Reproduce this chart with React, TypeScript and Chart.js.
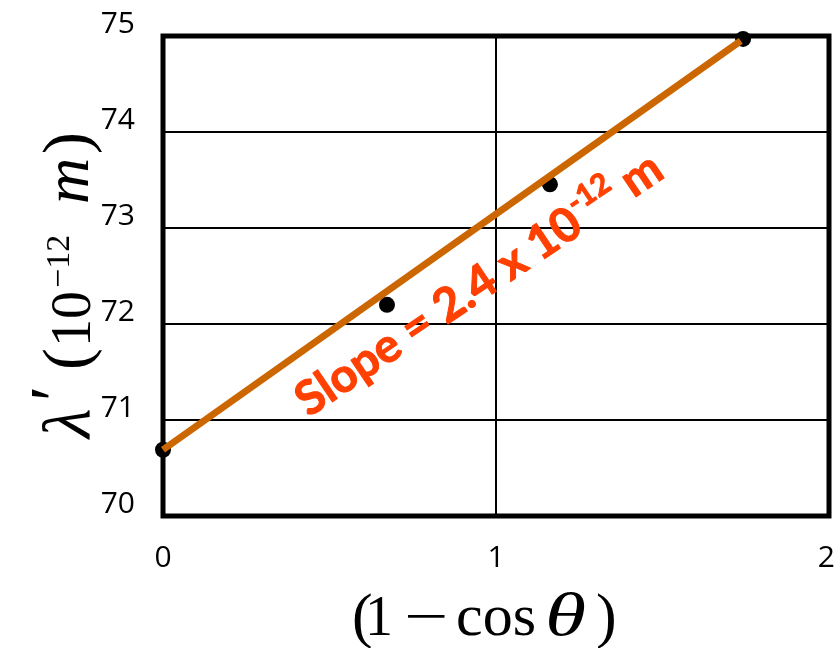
import React, { useEffect, useRef } from "react";
import { Chart, registerables } from "chart.js";

Chart.register(...registerables);

// ---- data ----
const measuredX = [0, 0.6726, 1.162, 1.742];
const measuredY = [70.69, 72.2, 73.455, 74.97];
const fitX = [0, 1.735];
const fitY = [70.69, 74.95];
const xTickValues = [0, 1, 2];
const yMin = 70;
const yMax = 75;
const xMin = 0;
const xMax = 2;
const slopeMain = "Slope = 2.4 x 10";
const slopeSup = "-12";
const slopeUnit = " m";
const slopeAnchor = [0.975, 72.28];

type Run = { t: string; font: string; at: number; dy?: number; sx?: number };

function drawRuns(ctx: CanvasRenderingContext2D, runs: Run[], ox: number, oy: number, angle: number, color: string) {
  ctx.save();
  ctx.translate(ox, oy);
  ctx.rotate(angle);
  ctx.fillStyle = color;
  ctx.textAlign = "left";
  ctx.textBaseline = "alphabetic";
  runs.forEach((r) => {
    ctx.save();
    ctx.font = r.font;
    ctx.translate(r.at, r.dy || 0);
    ctx.scale(r.sx || 1, 1);
    ctx.fillText(r.t, 0, 0);
    ctx.restore();
  });
  ctx.restore();
}

function drawFlow(
  ctx: CanvasRenderingContext2D,
  runs: { t: string; font: string; dy?: number; gap?: number }[],
  cx: number,
  cy: number,
  angle: number,
  color: string,
  emb: number
) {
  ctx.save();
  ctx.translate(cx, cy);
  ctx.rotate(angle);
  ctx.fillStyle = color;
  ctx.strokeStyle = color;
  ctx.lineWidth = emb;
  ctx.lineJoin = "round";
  ctx.textAlign = "left";
  ctx.textBaseline = "alphabetic";
  let total = 0;
  const widths = runs.map((r) => {
    ctx.font = r.font;
    const w = ctx.measureText(r.t).width;
    total += (r.gap || 0) + w;
    return w;
  });
  let x = -total / 2;
  runs.forEach((r, i) => {
    x += r.gap || 0;
    ctx.font = r.font;
    ctx.fillText(r.t, x, r.dy || 0);
    if (emb > 0) ctx.strokeText(r.t, x, r.dy || 0);
    x += widths[i];
  });
  ctx.restore();
}

const SERIF = '"Liberation Serif", "Times New Roman", serif';
const TICKFONT = '"Open Sans", sans-serif';

const decor = {
  id: "decor",
  beforeDatasetsDraw(chart: any) {
    const { ctx, chartArea: a } = chart;
    ctx.save();
    ctx.strokeStyle = "#000";
    ctx.lineWidth = 5;
    ctx.lineJoin = "miter";
    ctx.strokeRect(a.left, a.top, a.right - a.left, a.bottom - a.top);
    ctx.restore();
  },
  afterDraw(chart: any) {
    const { ctx, chartArea: a } = chart;
    const xs = chart.scales.x;
    const ys = chart.scales.y;
    // x tick labels
    ctx.save();
    ctx.font = `30px ${TICKFONT}`;
    ctx.fillStyle = "#000";
    ctx.textBaseline = "alphabetic";
    ctx.textAlign = "left";
    xTickValues.forEach((v) => {
      const label = String(v);
      const px = xs.getPixelForValue(v);
      const w = ctx.measureText(label).width;
      let left = px - w / 2;
      if (left + w > chart.width - 2) left = chart.width - 2 - w;
      ctx.fillText(label, left, a.bottom + 51);
    });
    ctx.restore();

    // x axis title: (1 − cos θ)
    drawRuns(
      ctx,
      [
        { t: "(", font: `62px ${SERIF}`, at: 352, dy: 1 },
        { t: "1", font: `56px ${SERIF}`, at: 365 },
        { t: "\u2212", font: `56px ${SERIF}`, at: 404, sx: 1.4 },
        { t: "cos", font: `60px ${SERIF}`, at: 456 },
        { t: "\u03B8", font: `italic 62px ${SERIF}`, at: 545, sx: 1.35 },
        { t: ")", font: `62px ${SERIF}`, at: 596, dy: 1 },
      ],
      0,
      635,
      0,
      "#000"
    );

    // y axis title: λ′(10^−12 m)
    drawRuns(
      ctx,
      [
        { t: "\u03BB", font: `italic 68px ${SERIF}`, at: 0 },
        { t: "\u2032", font: `70px ${SERIF}`, at: 37, dy: -12 },
        { t: "(", font: `66px ${SERIF}`, at: 68, dy: -2 },
        { t: "10", font: `56px ${SERIF}`, at: 91 },
        { t: "\u221212", font: `34px ${SERIF}`, at: 150, dy: -21 },
        { t: "m", font: `italic 64px ${SERIF}`, at: 234, dy: -2 },
        { t: ")", font: `66px ${SERIF}`, at: 284, dy: -2 },
      ],
      90,
      438,
      -Math.PI / 2,
      "#000"
    );

    // slope annotation
    const sx = xs.getPixelForValue(slopeAnchor[0]);
    const sy = ys.getPixelForValue(slopeAnchor[1]);
    drawFlow(
      ctx,
      [
        { t: slopeMain, font: `bold 47px Lato, sans-serif` },
        { t: slopeSup, font: `bold 30px Lato, sans-serif`, dy: -20, gap: 1 },
        { t: slopeUnit, font: `bold 47px Lato, sans-serif` },
      ],
      sx,
      sy,
      (-34 * Math.PI) / 180,
      "#FF4000",
      1
    );
  },
};

export default function App() {
  const ref = useRef<HTMLCanvasElement | null>(null);
  useEffect(() => {
    document.body.style.margin = "0";
    const canvas = ref.current!;
    const chart = new Chart(canvas, {
      type: "scatter",
      data: {
        datasets: [
          {
            label: "fit",
            data: fitX.map((x, i) => ({ x, y: fitY[i] })),
            showLine: true,
            borderColor: "#CC6600",
            backgroundColor: "#CC6600",
            borderWidth: 7,
            borderCapStyle: "butt",
            pointRadius: 0,
            clip: false,
          } as any,
          {
            label: "data",
            data: measuredX.map((x, i) => ({ x, y: measuredY[i] })),
            backgroundColor: "#000",
            borderColor: "#000",
            pointRadius: 8,
            pointBorderWidth: 0,
            clip: false,
          } as any,
        ],
      },
      options: {
        animation: false,
        responsive: false,
        events: [],
        layout: { padding: { top: 36, right: 4, left: 0, bottom: 0 } },
        plugins: { legend: { display: false }, tooltip: { enabled: false } },
        scales: {
          x: {
            type: "linear",
            min: xMin,
            max: xMax,
            ticks: { stepSize: 1, display: false },
            grid: { color: "#000", lineWidth: 2, drawTicks: false },
            border: { display: false },
            afterFit: (s: any) => {
              s.height = 132;
              s.paddingLeft = 0;
              s.paddingRight = 0;
            },
          },
          y: {
            type: "linear",
            min: yMin,
            max: yMax,
            ticks: {
              stepSize: 1,
              color: "#000",
              font: { family: "Open Sans", size: 30 },
              padding: 28,
              labelOffset: -12,
            },
            grid: { color: "#000", lineWidth: 2, drawTicks: false },
            border: { display: false },
            afterFit: (s: any) => {
              s.width = 163;
              s.paddingTop = 0;
              s.paddingBottom = 0;
            },
          },
        },
      },
      plugins: [decor],
    });
    return () => chart.destroy();
  }, []);
  return (
    <div style={{ width: 837, height: 648 }}>
      <canvas ref={ref} width={837} height={648} style={{ display: "block" }} />
    </div>
  );
}
